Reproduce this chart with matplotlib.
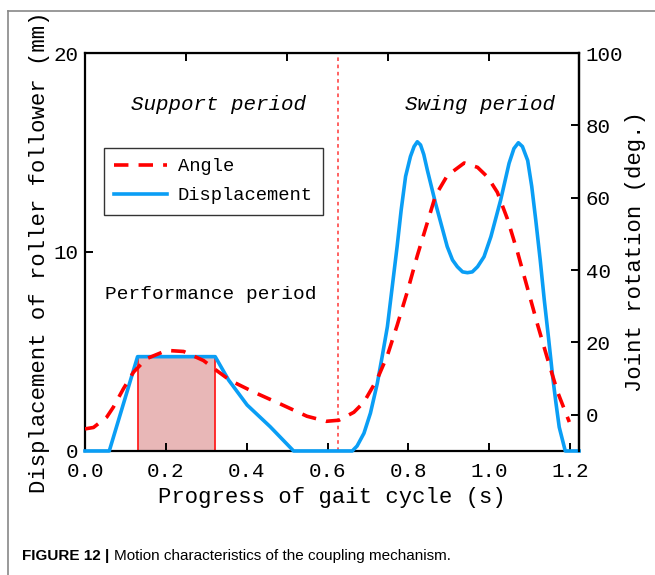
import matplotlib.pyplot as plt
import numpy as np

plt.rcParams['font.family'] = ['Liberation Mono', 'DejaVu Sans Mono']

# displacement of roller follower (mm) vs time (s)
t_disp = [0.0, 0.060, 0.130, 0.322, 0.355, 0.401, 0.458, 0.516, 0.661, 0.673,
          0.690, 0.706, 0.723, 0.735, 0.748, 0.760, 0.772, 0.782, 0.793, 0.805,
          0.814, 0.822, 0.830, 0.838, 0.847, 0.867, 0.896, 0.909, 0.921, 0.934,
          0.946, 0.958, 0.971, 0.987, 1.004, 1.028, 1.049, 1.061, 1.072, 1.082,
          1.095, 1.105, 1.115, 1.126, 1.136, 1.147, 1.157, 1.165, 1.173, 1.188,
          1.222]
disp = [0.0, 0.0, 4.74, 4.74, 3.57, 2.31, 1.22, 0.0, 0.0, 0.25,
        0.89, 1.9, 3.4, 4.74, 6.25, 8.26, 10.27, 12.1, 13.8, 14.8,
        15.3, 15.54, 15.38, 14.9, 14.1, 12.45, 10.27, 9.6, 9.26, 9.0,
        8.96, 9.0, 9.26, 9.76, 10.77, 12.6, 14.46, 15.2, 15.49, 15.3,
        14.6, 13.3, 11.6, 9.6, 7.6, 5.6, 3.7, 2.4, 1.2, 0.0,
        0.0]

# joint rotation angle (deg.) vs time (s)
t_ang = [0.0, 0.021, 0.054, 0.070, 0.095, 0.120, 0.152, 0.202, 0.244, 0.293,
         0.326, 0.359, 0.417, 0.483, 0.549, 0.597, 0.628, 0.665, 0.690, 0.723,
         0.748, 0.772, 0.797, 0.822, 0.847, 0.867, 0.896, 0.938, 0.971, 0.996,
         1.020, 1.045, 1.070, 1.095, 1.120, 1.144, 1.169, 1.198]
angle = [-3.9, -3.5, -0.6, 2.1, 7.2, 11.8, 15.5, 17.8, 17.5, 15.0,
         12.2, 9.5, 6.3, 3.0, -0.4, -1.8, -1.5, 0.7, 3.5, 9.9,
         16.4, 24.7, 33.9, 44.0, 53.2, 60.6, 66.1, 69.6, 68.4, 65.7,
         61.5, 54.1, 44.9, 34.8, 24.7, 15.5, 6.3, -2.0]

perf_start, perf_end, perf_height = 0.130, 0.322, 4.74
swing_start = 0.626

fig = plt.figure(figsize=(6.55, 5.75), dpi=100)
ax = fig.add_axes([0.1298, 0.2157, 0.7542, 0.6921])
ax2 = ax.twinx()
for side in ('left', 'top', 'bottom'):
    ax2.spines[side].set_visible(False)

# performance period block
ax.fill_between([perf_start, perf_end], 0, perf_height, color='#e8b7b7', lw=0, zorder=1)
ax.vlines([perf_start, perf_end], 0, perf_height, color='#ff2020', lw=1.3, zorder=2)
ax.axvline(swing_start, color='#ff5555', lw=1.3, ls=(0, (2, 2)), zorder=2)

l2, = ax.plot(t_disp, disp, color='#0a9ef5', lw=2.6, zorder=3, clip_on=False,
              solid_joinstyle='round', label='Displacement')
l1, = ax2.plot(t_ang, angle, color='#ff0000', lw=2.6, dashes=(4, 2.8), label='Angle')

ax.set_xlim(0, 1.222)
ax.set_ylim(0, 20)
ax2.set_ylim(-10, 100)
ax.set_xticks(np.arange(0, 1.21, 0.2))
ax.set_xticklabels(['0.0', '0.2', '0.4', '0.6', '0.8', '1.0', '1.2'])
ax.set_yticks([0, 10, 20])
ax2.set_yticks([0, 20, 40, 60, 80, 100])

for a in (ax, ax2):
    for s in a.spines.values():
        s.set_linewidth(1.6)
ax.tick_params(axis='x', direction='in', length=6, width=1.4, labelsize=15, pad=8)
ax.tick_params(axis='y', direction='in', length=6, width=1.4, labelsize=15, pad=5)
ax2.tick_params(axis='y', direction='in', length=6, width=1.4, labelsize=15, pad=5)

# top axis ticks (no labels)
top = ax.secondary_xaxis('top')
top.set_xticks([0.25, 0.5, 0.75, 1.0])
top.tick_params(direction='in', length=6, width=1.4, labeltop=False)

ax.set_xlabel('Progress of gait cycle (s)', fontsize=16, labelpad=4)
ax.set_ylabel('Displacement of roller follower (mm)', fontsize=16, labelpad=2)
ax2.set_ylabel('Joint rotation (deg.)', fontsize=16, labelpad=1)

ax.text(0.33, 17.4, 'Support period', fontsize=15, style='italic', ha='center', va='center')
ax.text(0.976, 17.4, 'Swing period', fontsize=15, style='italic', ha='center', va='center')
ax.text(0.05, 7.85, 'Performance period', fontsize=14, ha='left', va='center')

leg = ax2.legend(handles=[l1, l2], loc='upper left', bbox_to_anchor=(0.038, 0.762),
                 borderaxespad=0, fontsize=13.5, frameon=True, fancybox=False,
                 edgecolor='black', handlelength=2.8, handletextpad=0.6,
                 borderpad=0.55, labelspacing=0.65)
leg.get_frame().set_linewidth(1.0)

# outer frame and caption
fig.add_artist(plt.Line2D([8 / 655, 1.0], [1 - 11 / 575, 1 - 11 / 575], color='#888888', lw=1.2))
fig.add_artist(plt.Line2D([8 / 655, 8 / 655], [0.0, 1 - 11 / 575], color='#888888', lw=1.2))
cap_font = ['Liberation Sans Narrow', 'Liberation Sans']
cap1 = fig.text(22 / 655, 1 - 556 / 575, 'FIGURE 12 | ', fontsize=11, weight='bold',
                family=cap_font, va='center', ha='left')
fig.canvas.draw()
bb = cap1.get_window_extent(fig.canvas.get_renderer())
fig.text(bb.x1 / fig.bbox.width, 1 - 556 / 575,
         'Motion characteristics of the coupling mechanism.',
         fontsize=11, family=cap_font, va='center', ha='left')

fig.savefig('out.png', dpi=100)
